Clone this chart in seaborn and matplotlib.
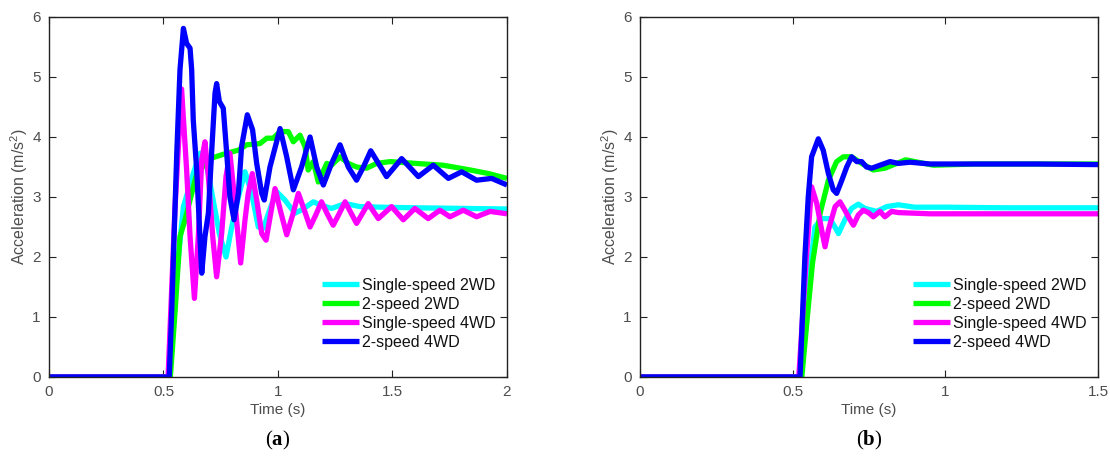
import numpy as np
import pandas as pd
import matplotlib
matplotlib.use('Agg')
import matplotlib.pyplot as plt
import seaborn as sns

series_names = ['Single-speed 2WD', '2-speed 2WD', 'Single-speed 4WD', '2-speed 4WD']
series_colors = ['#00FFFF', '#00FF00', '#FF00FF', '#0000FF']

# panel (a)
a_cyan_t = [0, 0.525, 0.56, 0.587, 0.63, 0.659, 0.68, 0.70, 0.725, 0.744, 0.773, 0.798, 0.827, 0.856,
            0.885, 0.914, 0.936, 0.965, 0.994, 1.03, 1.074, 1.11, 1.154, 1.19, 1.234, 1.293, 1.358,
            1.45, 1.6, 1.8, 2.0]
a_cyan_a = [0, 0, 1.8, 2.84, 3.39, 3.73, 3.7, 3.3, 2.78, 2.39, 2.0, 2.5, 3.0, 3.42,
            3.06, 2.5, 2.48, 2.8, 3.09, 2.95, 2.73, 2.8, 2.92, 2.86, 2.81, 2.89, 2.84,
            2.83, 2.82, 2.81, 2.8]

a_green_t = [0, 0.53, 0.55, 0.572, 0.594, 0.616, 0.645, 0.703, 0.776, 0.827, 0.863, 0.921, 0.951, 0.979,
             1.009, 1.045, 1.067, 1.096, 1.118, 1.132, 1.154, 1.176, 1.213, 1.234, 1.271, 1.307, 1.343,
             1.387, 1.431, 1.49, 1.6, 1.72, 1.84, 1.92, 2.0]
a_green_a = [0, 0, 1.06, 2.34, 2.62, 2.95, 3.39, 3.64, 3.73, 3.78, 3.87, 3.89, 3.98, 3.98,
             4.09, 4.09, 3.92, 4.03, 3.84, 3.45, 3.59, 3.25, 3.56, 3.53, 3.67, 3.56, 3.5,
             3.48, 3.56, 3.59, 3.56, 3.53, 3.45, 3.39, 3.31]

a_mag_t = [0, 0.52, 0.55, 0.579, 0.601, 0.616, 0.635, 0.652, 0.667, 0.681, 0.696, 0.715, 0.732, 0.754,
           0.773, 0.79, 0.808, 0.837, 0.856, 0.87, 0.888, 0.907, 0.929, 0.948, 0.967, 0.987, 1.012,
           1.038, 1.064, 1.089, 1.115, 1.14, 1.165, 1.19, 1.215, 1.241, 1.267, 1.293, 1.318, 1.343,
           1.394, 1.438, 1.496, 1.547, 1.598, 1.656, 1.707, 1.751, 1.809, 1.867, 1.926, 2.0]
a_mag_a = [0, 0, 2.8, 4.8, 3.45, 2.34, 1.31, 2.34, 3.62, 3.92, 3.34, 2.34, 1.67, 2.39,
           3.34, 3.73, 3.06, 1.9, 2.62, 3.06, 3.39, 2.95, 2.39, 2.28, 2.7, 3.14, 2.75,
           2.37, 2.7, 3.06, 2.78, 2.5, 2.7, 2.92, 2.72, 2.53, 2.72, 2.92, 2.74, 2.56,
           2.89, 2.64, 2.84, 2.62, 2.81, 2.64, 2.78, 2.67, 2.78, 2.67, 2.76, 2.72]

a_blue_t = [0, 0.525, 0.536, 0.558, 0.572, 0.587, 0.601, 0.616, 0.623, 0.630, 0.645, 0.659, 0.667, 0.681,
            0.696, 0.710, 0.725, 0.732, 0.744, 0.761, 0.776, 0.790, 0.808, 0.827, 0.841, 0.866, 0.889,
            0.907, 0.929, 0.940, 0.965, 1.009, 1.038, 1.067, 1.103, 1.14, 1.169, 1.198, 1.234, 1.271,
            1.307, 1.343, 1.373, 1.405, 1.474, 1.54, 1.613, 1.678, 1.744, 1.802, 1.867, 1.933, 2.0]
a_blue_a = [0, 0, 1.12, 3.73, 5.12, 5.81, 5.56, 5.48, 5.12, 4.28, 3.45, 2.34, 1.73, 2.34,
            2.73, 3.73, 4.73, 4.89, 4.59, 4.48, 3.73, 3.0, 2.62, 3.06, 3.84, 4.37, 4.12,
            3.56, 3.06, 2.95, 3.5, 4.14, 3.67, 3.12, 3.5, 4.0, 3.5, 3.2, 3.56, 3.87,
            3.5, 3.28, 3.5, 3.77, 3.34, 3.64, 3.34, 3.53, 3.31, 3.42, 3.28, 3.31, 3.2]

# panel (b)
b_cyan_t = [0, 0.525, 0.55, 0.573, 0.595, 0.622, 0.644, 0.650, 0.671, 0.693, 0.715, 0.737, 0.775,
            0.808, 0.846, 0.9, 1.0, 1.2, 1.5]
b_cyan_a = [0, 0, 1.5, 2.5, 2.64, 2.64, 2.45, 2.39, 2.62, 2.81, 2.88, 2.81, 2.76,
            2.84, 2.87, 2.83, 2.83, 2.82, 2.82]

b_green_t = [0, 0.53, 0.548, 0.565, 0.590, 0.617, 0.644, 0.666, 0.693, 0.726, 0.764, 0.802, 0.841,
             0.87, 0.92, 0.961, 1.1, 1.3, 1.5]
b_green_a = [0, 0, 1.0, 1.9, 2.73, 3.28, 3.59, 3.67, 3.67, 3.56, 3.45, 3.48, 3.56,
             3.62, 3.57, 3.53, 3.55, 3.55, 3.55]

b_mag_t = [0, 0.52, 0.545, 0.562, 0.579, 0.595, 0.606, 0.617, 0.639, 0.655, 0.671, 0.688, 0.699,
           0.715, 0.731, 0.748, 0.764, 0.786, 0.802, 0.824, 0.846, 0.95, 1.2, 1.5]
b_mag_a = [0, 0, 2.0, 3.17, 2.89, 2.45, 2.17, 2.45, 2.84, 2.92, 2.78, 2.62, 2.53,
           2.7, 2.78, 2.74, 2.67, 2.76, 2.67, 2.76, 2.74, 2.72, 2.72, 2.72]

b_blue_t = [0, 0.524, 0.540, 0.551, 0.562, 0.584, 0.600, 0.617, 0.633, 0.644, 0.661, 0.677, 0.693,
            0.710, 0.726, 0.742, 0.759, 0.786, 0.819, 0.846, 0.884, 0.95, 1.1, 1.3, 1.5]
b_blue_a = [0, 0, 2.0, 3.0, 3.67, 3.97, 3.78, 3.39, 3.12, 3.06, 3.28, 3.5, 3.67,
            3.59, 3.59, 3.5, 3.48, 3.53, 3.59, 3.56, 3.58, 3.55, 3.55, 3.55, 3.54]


def make_df(ts, accs):
    frames = []
    for name, t, a in zip(series_names, ts, accs):
        frames.append(pd.DataFrame({'t': t, 'acc': a, 'series': name}))
    return pd.concat(frames, ignore_index=True)


df_a = make_df([a_cyan_t, a_green_t, a_mag_t, a_blue_t], [a_cyan_a, a_green_a, a_mag_a, a_blue_a])
df_b = make_df([b_cyan_t, b_green_t, b_mag_t, b_blue_t], [b_cyan_a, b_green_a, b_mag_a, b_blue_a])

sns.set_style('ticks')
plt.rcParams['font.family'] = ['Liberation Sans', 'DejaVu Sans']
plt.rcParams['mathtext.fontset'] = 'custom'
plt.rcParams['mathtext.rm'] = 'Liberation Sans'
plt.rcParams['mathtext.it'] = 'Liberation Sans:italic'
plt.rcParams['mathtext.bf'] = 'Liberation Serif:bold'

gray = '#4d4d4d'
fig = plt.figure(figsize=(11.1, 4.58), dpi=100)
ax_a = fig.add_axes([0.04414, 0.17686, 0.41261, 0.78603])
ax_b = fig.add_axes([0.57658, 0.17686, 0.41261, 0.78603])

panels = [(ax_a, df_a, 2.0, [0, 0.5, 1, 1.5, 2], ['0', '0.5', '1', '1.5', '2'], 'a'),
          (ax_b, df_b, 1.5, [0, 0.5, 1, 1.5], ['0', '0.5', '1', '1.5'], 'b')]

for ax, df, xmax, xt, xtl, letter in panels:
    sns.lineplot(data=df, x='t', y='acc', hue='series', hue_order=series_names,
                 palette=series_colors, linewidth=3.8, estimator=None, sort=False, ax=ax)
    for line in ax.get_lines():
        line.set_solid_joinstyle('round')
        line.set_solid_capstyle('butt')
    ax.set_xlim(0, xmax)
    ax.set_ylim(0, 6)
    ax.set_xticks(xt)
    ax.set_xticklabels(xtl)
    ax.set_yticks(range(7))
    ax.tick_params(direction='in', top=True, right=True, length=5, width=0.8,
                   labelsize=11, labelcolor=gray, color='#222222', pad=6)
    for s in ax.spines.values():
        s.set_visible(True)
        s.set_linewidth(1.0)
        s.set_color('#222222')
    ax.set_xlabel('Time (s)', fontsize=11, color=gray, labelpad=3)
    ax.set_ylabel('Acceleration (m/s$^2$)', fontsize=11.5, color=gray, labelpad=1.5)
    leg = ax.legend(loc='lower right', bbox_to_anchor=(1.0, 0.045), frameon=False, fontsize=11.5,
                    handlelength=2.3, handletextpad=0.2, labelspacing=0.25, borderaxespad=0.3)
    for line in leg.get_lines():
        line.set_linewidth(3.8)
    for txt in leg.get_texts():
        txt.set_color('#111111')
    bb = ax.get_position()
    fig.text(bb.x0 + bb.width / 2, 0.039, '($\\mathbf{' + letter + '}$)', ha='center', va='center',
             fontsize=15, family='Liberation Serif', color='black')

fig.savefig('out.png', dpi=100)
